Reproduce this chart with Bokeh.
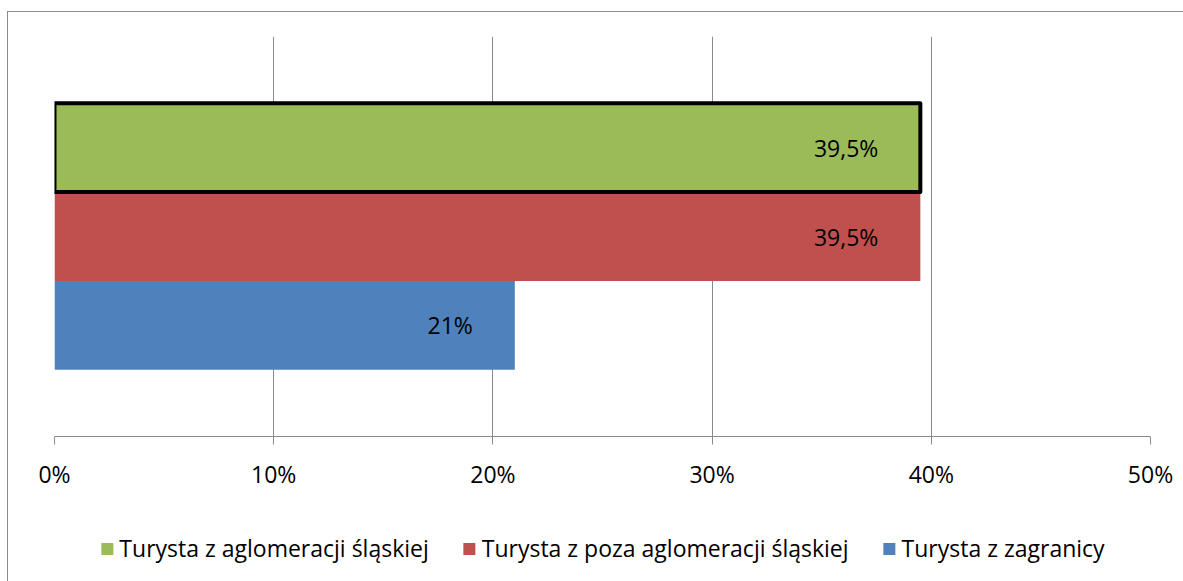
from bokeh.plotting import figure
from bokeh.layouts import column
from bokeh.models import (ColumnDataSource, FactorRange, Range1d, FixedTicker,
                          LabelSet, Legend, LegendItem)
from bokeh.core.properties import value
from bokeh.embed import file_html
from bokeh.resources import INLINE

categories = ["Turysta z aglomeracji śląskiej",
              "Turysta z poza aglomeracji śląskiej",
              "Turysta z zagranicy"]
values = [39.5, 39.5, 21.0]
value_labels = ["39,5%", "39,5%", "21%"]
colors = ["#9BBB59", "#C0504D", "#4F81BD"]
highlighted = ["Turysta z aglomeracji śląskiej"]
ticks = [0, 10, 20, 30, 40, 50]
tick_labels = ["0%", "10%", "20%", "30%", "40%", "50%"]

FONT = "Open Sans"
GRID = "#8a8a8a"

source = ColumnDataSource(dict(cat=categories, val=values, lab=value_labels, color=colors))
hl_source = ColumnDataSource(dict(
    cat=[c for c in categories if c in highlighted],
    val=[v for c, v in zip(categories, values) if c in highlighted]))

# ---- main chart ----
p = figure(width=1175, height=480, output_backend="svg", toolbar_location=None,
           x_range=Range1d(0, 50),
           y_range=FactorRange(factors=list(reversed(categories)), range_padding=0.5),
           min_border_left=46, min_border_right=33, min_border_top=24, min_border_bottom=55)
p.outline_line_color = None
p.background_fill_color = "white"
p.border_fill_color = "white"

bars = p.hbar(y="cat", left=0, right="val", height=1.0, source=source,
              fill_color="color", line_color=None)
p.hbar(y="cat", left=0, right="val", height=1.0, source=hl_source,
       fill_color=None, line_color="black", line_width=4, line_join="round")

labels = LabelSet(x="val", y="cat", text="lab", source=source, x_offset=-42,
                  text_align="right", text_baseline="middle",
                  text_font=value(FONT), text_font_size="23px", text_color="black")
p.add_layout(labels)

p.yaxis.visible = False
p.ygrid.visible = False
p.xgrid.grid_line_color = GRID
p.xgrid.grid_line_width = 1
p.xaxis.ticker = FixedTicker(ticks=ticks)
p.xaxis.major_label_overrides = {t: l for t, l in zip(ticks, tick_labels)}
p.xaxis.axis_line_color = GRID
p.xaxis.major_tick_line_color = GRID
p.xaxis.major_tick_out = 8
p.xaxis.major_tick_in = 0
p.xaxis.minor_tick_line_color = None
p.xaxis.major_label_standoff = 13
p.xaxis.major_label_text_font = FONT
p.xaxis.major_label_text_font_size = "23px"
p.xaxis.major_label_text_color = "black"

# ---- legend strip ----
lp = figure(width=1175, height=89, output_backend="svg", toolbar_location=None,
            x_range=Range1d(0, 50), y_range=FactorRange(factors=list(reversed(categories))),
            x_axis_location=None, y_axis_location=None,
            min_border_left=46, min_border_right=33, min_border_top=23, min_border_bottom=0)
lp.outline_line_color = None
lp.xgrid.visible = False
lp.ygrid.visible = False
key = lp.hbar(y="cat", left=0, right="val", height=0, source=source,
              fill_color="color", line_color=None)
items = [LegendItem(label=c, renderers=[key], index=i) for i, c in enumerate(categories)]
legend = Legend(items=items, orientation="horizontal", location="center",
                glyph_width=15, glyph_height=15, label_standoff=5, spacing=33,
                padding=0, margin=0, border_line_color=None, background_fill_alpha=0,
                label_text_font=FONT, label_text_font_size="23px", label_text_color="black")
lp.add_layout(legend, "center")

layout = column(p, lp, spacing=0, margin=(11, 0, 0, 7),
                styles={"border-top": "1px solid #8c8c8c", "border-left": "1px solid #8c8c8c"})

open("out.html", "w").write(file_html(layout, INLINE))
